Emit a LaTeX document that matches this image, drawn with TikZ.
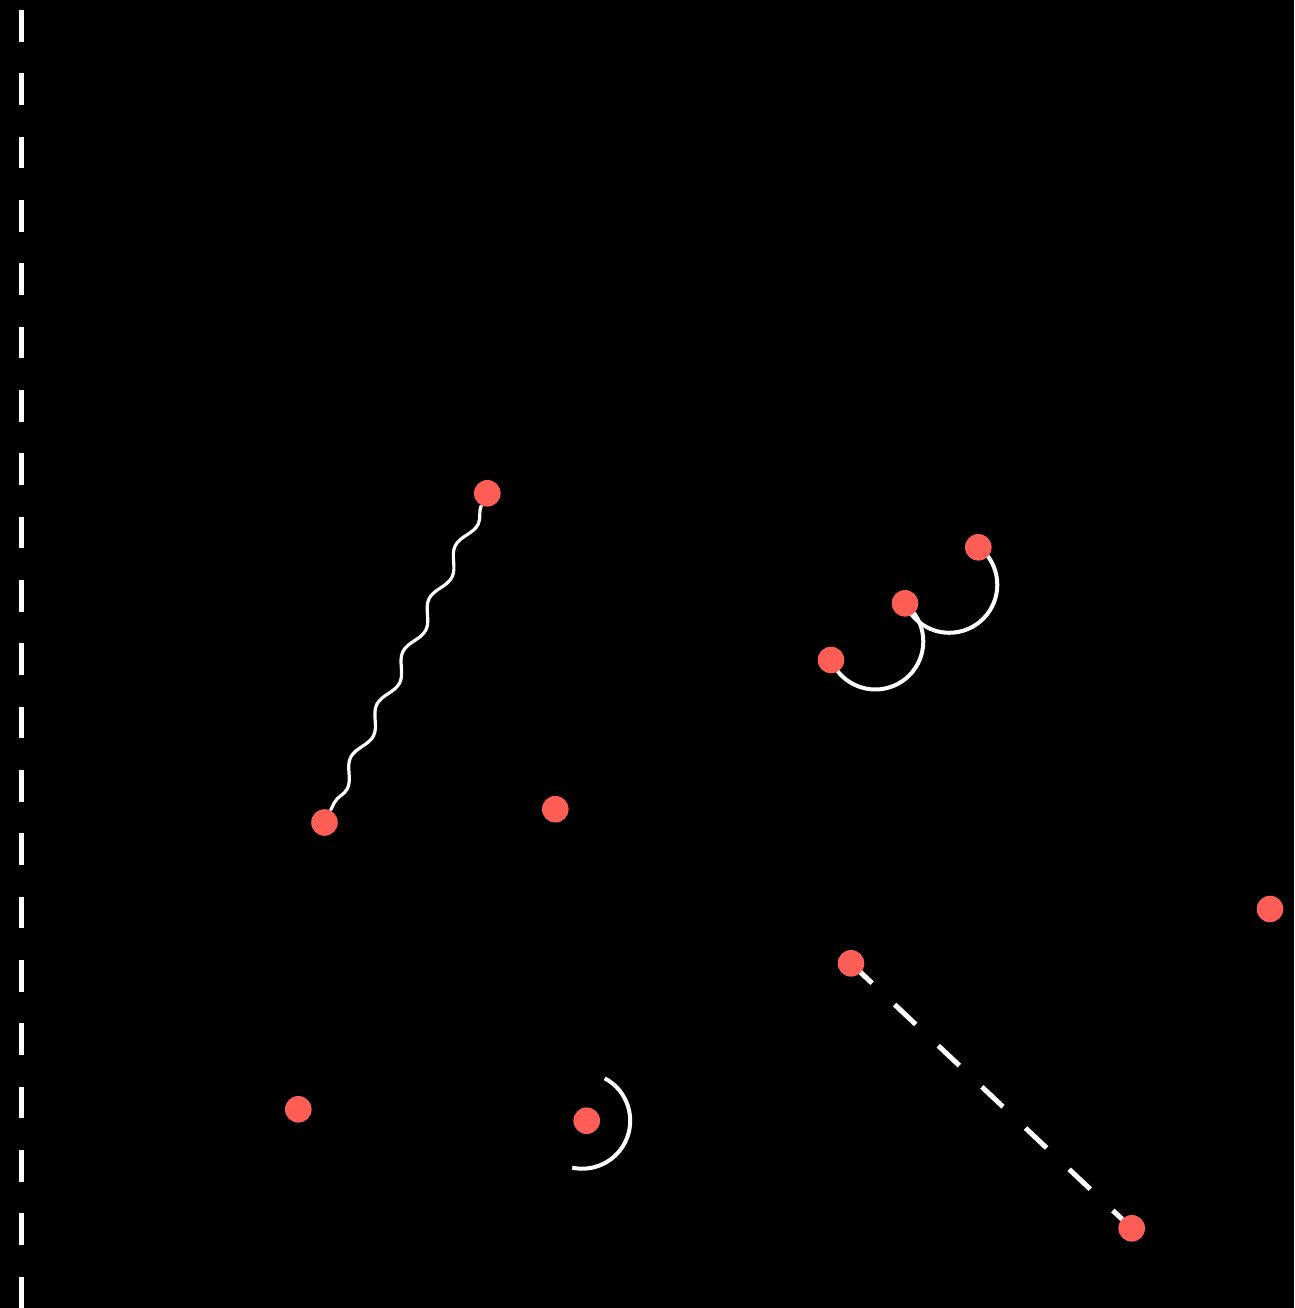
\documentclass[tikz,border=0pt]{standalone}
\usepackage{xcolor}
\usepackage{tikz}
\usetikzlibrary{positioning,calc,decorations.pathmorphing}
\pgfdeclarelayer{background}
\pgfsetlayers{background,main}
\definecolor{dotred}{HTML}{FF5E57}

\begin{document}
\begin{tikzpicture}[
    x=1pt, y=1pt,
    dot/.style={circle, fill=dotred, inner sep=0pt, outer sep=0pt, minimum size=26.6pt},
    wave/.style={draw=white, line width=3.2pt, decorate, decoration={snake, segment length=59pt, amplitude=5.5pt}},
    arcl/.style={draw=white, line width=4pt},
    dashl/.style={draw=white, line width=5pt, dash pattern=on 29pt off 31pt},
    guide/.style={draw=white, line width=5.5pt, dash pattern=on 31.67pt off 31.67pt, dash phase=53.33pt}
]
    \useasboundingbox (0,0) rectangle (1294,-1308);

    \node [dot] (n1) at (487.3,-493.3) {};
    \node [dot] (n2) at (324.5,-822.5) {};
    \node [dot] (n3) at (555.3,-809.2) {};
    \node [dot] (n4) at (978.3,-547.3) {};
    \node [dot] (n5) at (905,-603.3) {};
    \node [dot] (n6) at (831,-660) {};
    \node [dot] (n7) at (1270,-909) {};
    \node [dot] (n8) at (851,-963.3) {};
    \node [dot] (n9) at (1131.7,-1228.3) {};
    \node [dot] (n10) at (298.3,-1109.3) {};
    \node [dot] (n11) at (586.7,-1120.7) {};

    \begin{pgfonlayer}{background}
        \fill [black] (0,0) rectangle (1294,-1308);
        \draw [guide] (21.3,0) -- (21.3,-1308);

        \draw [wave] (n1) -- (n2);
        \draw [arcl] (n6.center) arc [start angle=202.7, end angle=411.5, radius=48pt];
        \draw [arcl] (n5.center) arc [start angle=202.7, end angle=411.5, radius=48pt];
        \draw [arcl] (n11.center) ++(-4.5pt,0) ++(62:48pt) arc [start angle=62, end angle=-102, radius=48pt];
        \draw [dashl] (n8.center) -- (n9.center);
    \end{pgfonlayer}
\end{tikzpicture}
\end{document}
